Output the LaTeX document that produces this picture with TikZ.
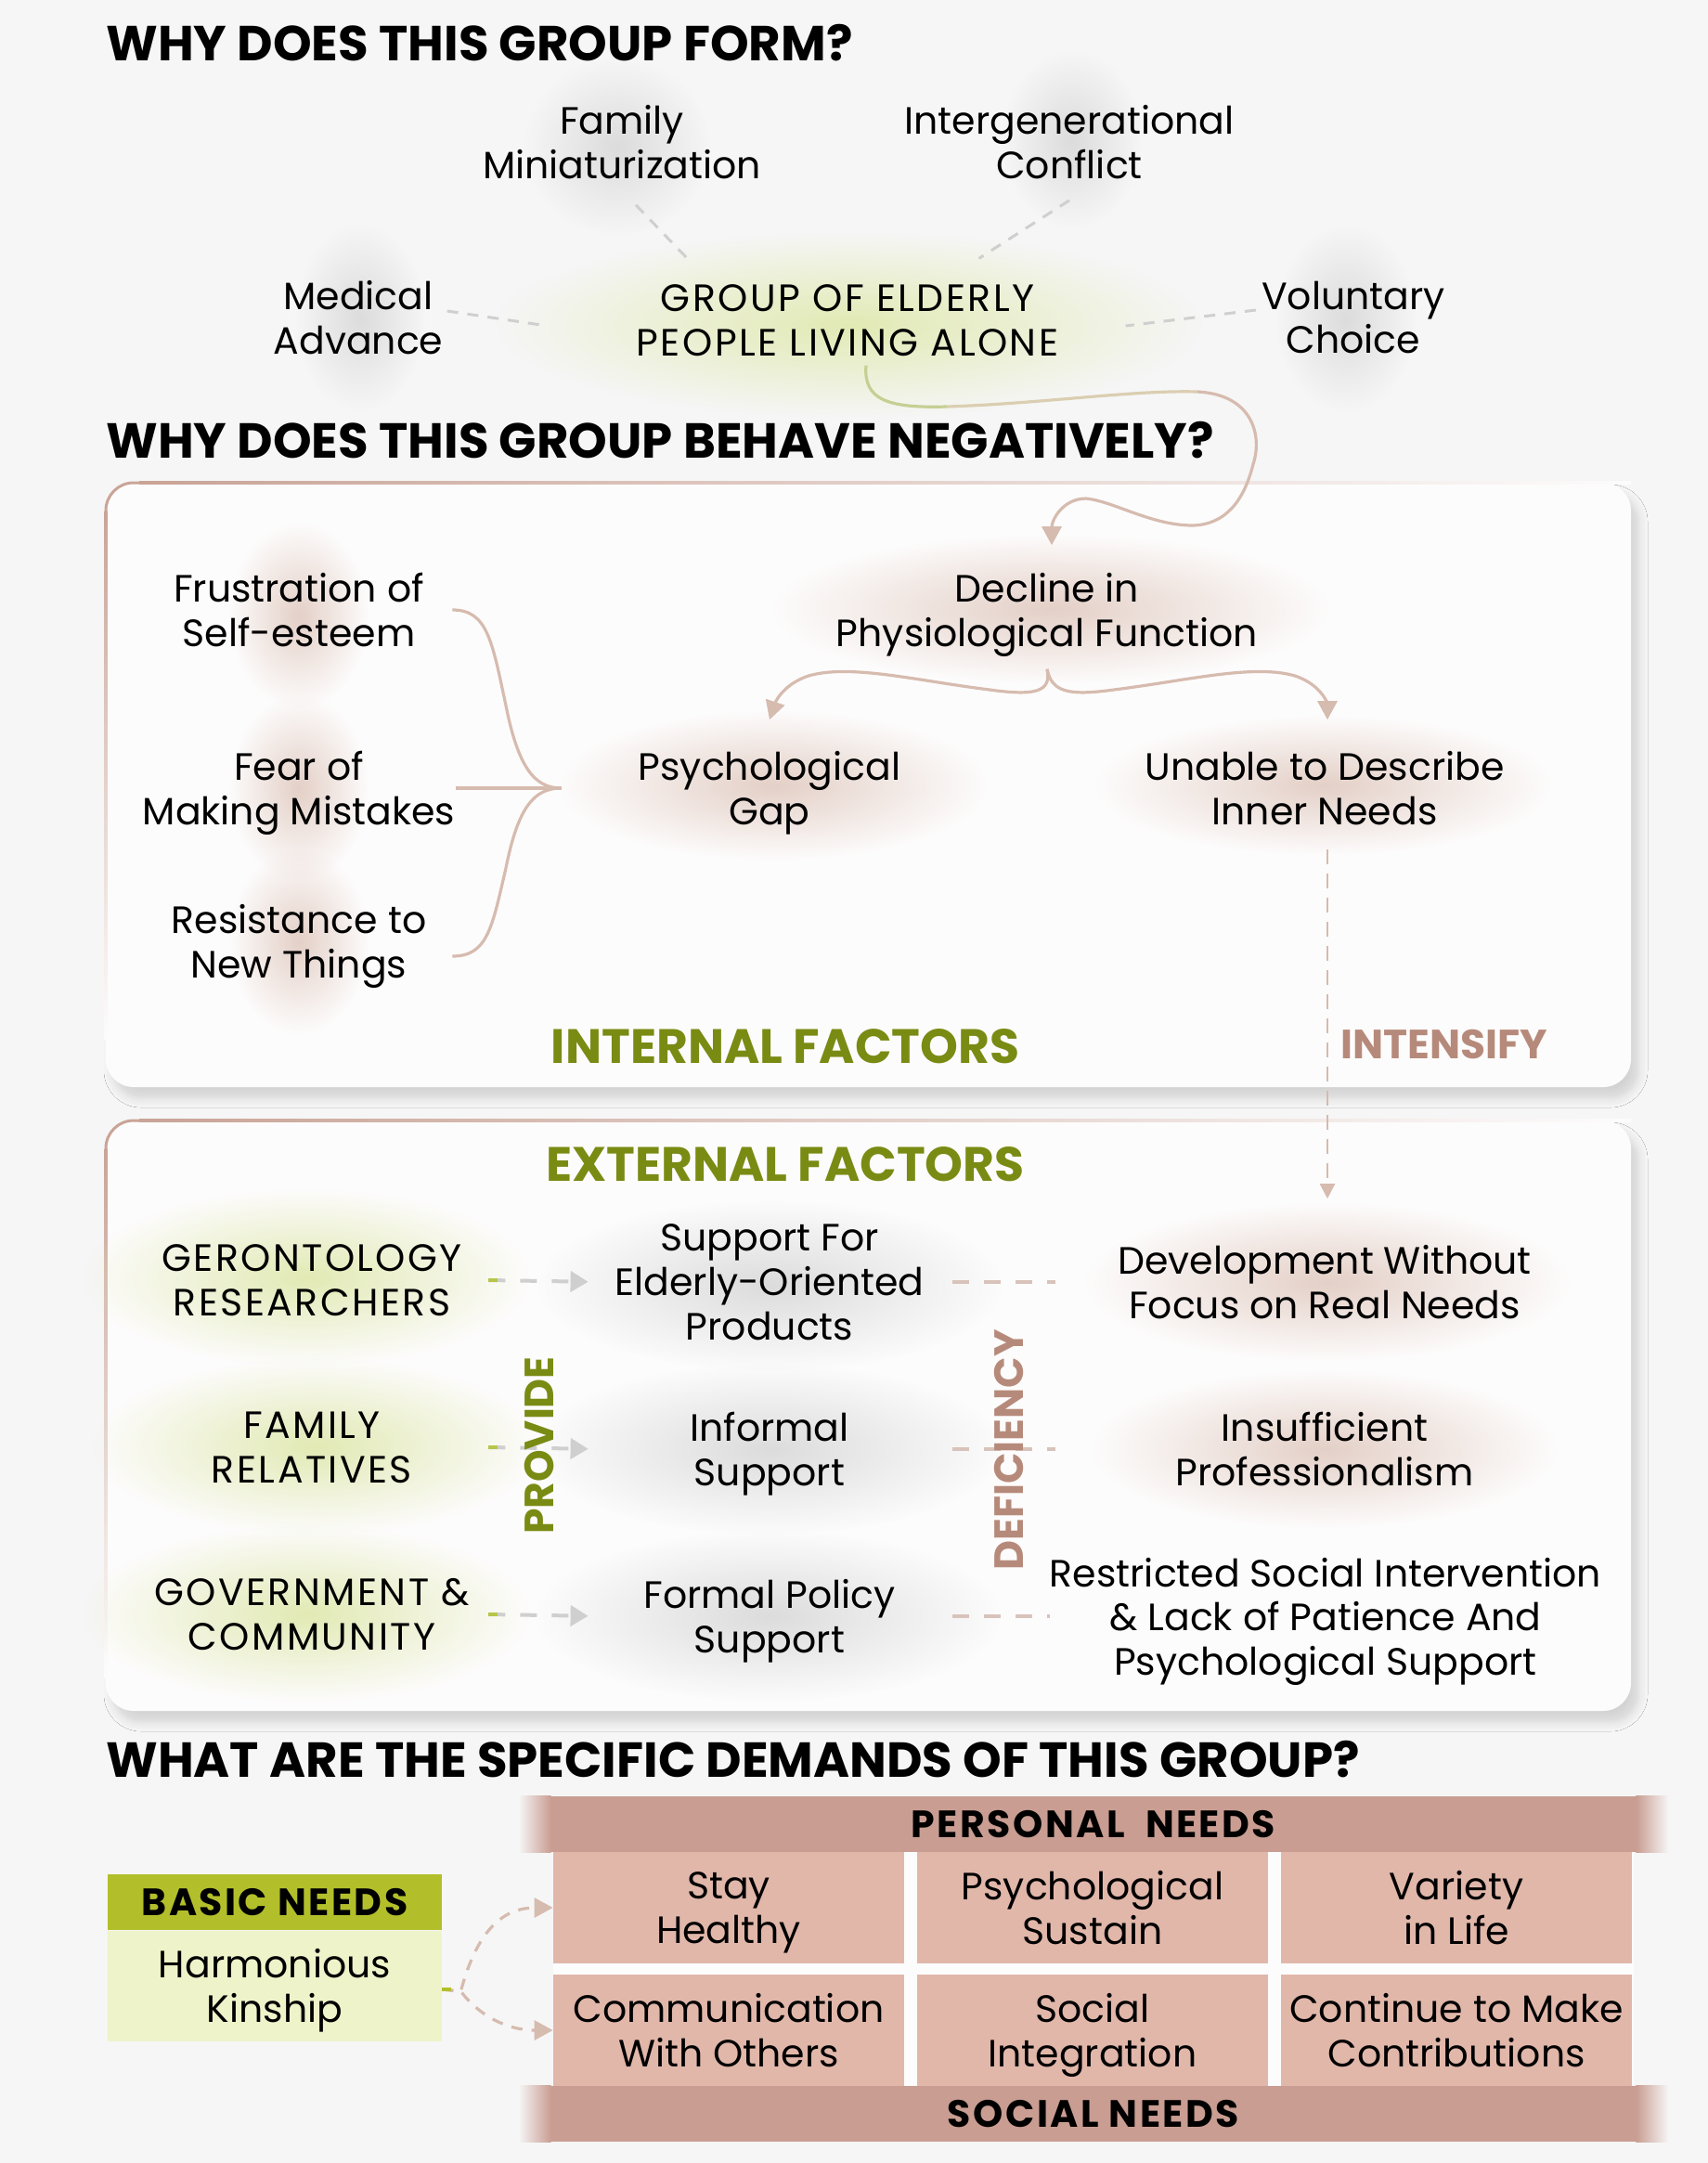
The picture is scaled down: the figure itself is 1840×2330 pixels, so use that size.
\documentclass[tikz,border=0pt]{standalone}
\usepackage{fontspec}
\setmainfont{Poppins}
\usetikzlibrary{arrows.meta,fadings,shadows.blur}

\definecolor{bgc}{HTML}{F6F6F6}
\definecolor{panelc}{HTML}{FDFCFC}
\definecolor{edgec}{HTML}{C9A497}
\definecolor{linkc}{HTML}{D6BBAF}
\definecolor{graydash}{HTML}{CFCFCF}
\definecolor{olivec}{HTML}{7A8B14}
\definecolor{brownt}{HTML}{B68A7B}
\definecolor{barc}{HTML}{C99D92}
\definecolor{cellc}{HTML}{E1B7AA}
\definecolor{basich}{HTML}{B2BF2A}
\definecolor{basicb}{HTML}{EEF3CA}
\definecolor{glowgray}{HTML}{DCDCDC}
\definecolor{glowpink}{HTML}{E4D0C7}
\definecolor{glowgreen}{HTML}{E2EAB4}
\definecolor{greendash}{HTML}{B7C54A}
\definecolor{defdash}{HTML}{D8C3BB}

\tikzfading[name=glowfade, inner color=transparent!0, outer color=transparent!100]

\tikzset{
  txt/.style={align=center, inner sep=0pt, text depth=0pt, font=\fontsize{20.5}{23.8}\selectfont},
  captxt/.style={txt, font=\fontsize{20.5}{23.8}\selectfont\addfontfeatures{LetterSpace=6}},
  head/.style={anchor=west, inner sep=0pt, font=\fontsize{26.5}{30}\selectfont\bfseries},
  factor/.style={inner sep=0pt, text=olivec, font=\fontsize{26}{30}\selectfont\bfseries},
  verb/.style={inner sep=0pt, rotate=90, font=\fontsize{22}{24}\selectfont\bfseries},
  panel/.style={fill=panelc, rounded corners=15pt,
    blur shadow={shadow xshift=4pt, shadow yshift=-6pt, shadow blur radius=5pt, shadow opacity=14}},
  formline/.style={draw=graydash, line width=1.5pt, dash pattern=on 6pt off 5pt},
  link/.style={draw=linkc, line width=1.6pt},
  tip/.style={-{Triangle[length=10pt,width=10.5pt]}},
  provline/.style={draw=graydash, line width=2pt, dash pattern=on 9pt off 8pt},
  defline/.style={draw=defdash, line width=2pt, dash pattern=on 9pt off 8pt},
  needline/.style={draw=linkc, line width=1.6pt, dash pattern=on 6pt off 5pt},
  bar/.style={fill=barc, minimum width=584pt, minimum height=30pt, inner sep=0pt,
    font=\fontsize{20.5}{23.8}\selectfont\bfseries\addfontfeatures{LetterSpace=6}},
  cell/.style={fill=cellc, minimum width=189pt, minimum height=60pt, inner sep=0pt,
    text depth=0pt, align=center, font=\fontsize{20.5}{23.8}\selectfont},
}

\begin{document}
\begin{tikzpicture}[x=0.5pt, y=-0.5pt]
\fill[bgc] (0,0) rectangle (1840,2330);
\useasboundingbox (0,0) rectangle (1840,2330);

% panels
\fill[panel] (114,520) rectangle (1757,1171);
\fill[panel] (114,1207) rectangle (1757,1843);
\foreach \ty in {520,1207} {
  \shade[left color=edgec, right color=panelc] (150,\ty-1.5) rectangle (1757,\ty+1.5);
  \shade[top color=edgec, bottom color=panelc] (112.5,\ty+30) rectangle (115.5,\ty+600);
  \draw[edgec, line width=1.5pt, rounded corners=15pt] (114,\ty+40) -- (114,\ty) -- (154,\ty);
}

% glows
\foreach \gx/\gy/\ga/\gb in {665/158/100/95, 1155/150/75/95, 388/342/70/100, 1450/343/75/100,
    830/1385/250/92, 828/1561/250/92, 828/1741/250/92}
  \fill[glowgray, path fading=glowfade] (\gx,\gy) ellipse ({\ga} and {\gb});
\foreach \gx/\gy/\ga/\gb in {915/350/380/100, 330/1376/240/95, 340/1558/240/95, 330/1738/240/95}
  \fill[glowgreen, path fading=glowfade] (\gx,\gy) ellipse ({\ga} and {\gb});
\foreach \gx/\gy/\ga/\gb in {322/663/75/100, 322/849/75/100, 322/1014/75/100, 1132/656/300/80,
    833/846/230/80, 1426/846/245/75, 1430/1381/260/85, 1427/1561/250/85}
  \fill[glowpink, path fading=glowfade] (\gx,\gy) ellipse ({\ga} and {\gb});

% headings
\node[head] (q1) at (114,46) {WHY DOES THIS GROUP FORM?};
\node[head] (q2) at (114,474) {WHY DOES THIS GROUP BEHAVE NEGATIVELY?};
\node[head] (q3) at (114,1895) {WHAT ARE THE SPECIFIC DEMANDS OF THIS GROUP?};

% why it forms
\node[txt] (family) at (670,153) {Family\\Miniaturization};
\node[txt] (inter) at (1152,153) {Intergenerational\\Conflict};
\node[txt] (medical) at (386,342) {Medical\\Advance};
\node[captxt] (group) at (913,345) {GROUP OF ELDERLY\\PEOPLE LIVING ALONE};
\node[txt] (volunt) at (1458,342) {Voluntary\\Choice};

\draw[formline] ([xshift=7.5pt,yshift=-14pt]family.south) -- ([xshift=27.5pt,yshift=14pt]group.north west);
\draw[formline] ([xshift=0pt,yshift=-11.5pt]inter.south) -- ([xshift=-43pt,yshift=14pt]group.north east);
\draw[formline] ([xshift=2pt,yshift=3.5pt]medical.east) -- ([xshift=-48pt,yshift=-3pt]group.west);
\draw[formline] ([xshift=-3pt,yshift=4pt]volunt.west) -- ([xshift=36pt,yshift=-3pt]group.east);

% internal factors
\node[txt, minimum width=165pt] (frust) at (322,657) {Frustration of\\Self-esteem};
\node[txt, minimum width=165pt] (fear) at (322,849) {Fear of\\Making Mistakes};
\node[txt, minimum width=165pt] (resist) at (322,1014) {Resistance to\\New Things};
\node[txt] (decline) at (1128,657) {Decline in\\Physiological Function};
\node[txt, minimum width=224pt] (gap) at (829,849) {Psychological\\Gap};
\node[txt] (unable) at (1427,849) {Unable to Describe\\Inner Needs};
\node[factor] (internal) at (846,1127) {INTERNAL FACTORS};
\node[verb, rotate=-90, text=brownt] (intens) at (1556,1125) {INTENSIFY};

\draw[link, draw=glowgreen!50!olivec!70] ([xshift=10pt,yshift=-5pt]group.south)
  .. controls (930,430) and (955,440) .. (1020,438);
\draw[link, draw=linkc!60!glowgreen] (1020,438) .. controls (1120,435) and (1220,420) .. (1290,422);
\draw[link, tip] (1290,422) .. controls (1350,425) and (1360,470) .. (1350,500)
  .. controls (1340,540) and (1320,565) .. (1285,566)
  .. controls (1240,566) and (1200,540) .. (1170,537)
  .. controls (1145,537) and (1133,560) .. ([xshift=2.5pt,yshift=15pt]decline.north);

\draw[link, tip] ([yshift=-12pt]decline.south) .. controls (1133,745) and (1116,750) .. (1066,743)
  .. controls (986,733) and (916,715) .. (871,728)
  .. controls (841,738) and (834,760) .. ([yshift=17pt]gap.north);
\draw[link, tip] ([yshift=-12pt]decline.south) .. controls (1133,745) and (1150,750) .. (1200,743)
  .. controls (1280,733) and (1350,715) .. (1395,728)
  .. controls (1425,738) and (1430,760) .. ([xshift=1.5pt,yshift=17pt]unable.north);

\draw[link] (frust.east) .. controls (525,657) and (530,690) .. (545,760)
  .. controls (558,825) and (575,849) .. (gap.west);
\draw[link] (fear.east) -- (gap.west);
\draw[link] ([yshift=-8pt]resist.east) .. controls (525,1030) and (530,1000) .. (545,935)
  .. controls (558,870) and (575,849) .. (gap.west);

% external factors
\node[factor] (external) at (846,1254) {EXTERNAL FACTORS};
\node[captxt, minimum width=190pt] (ger) at (336,1379) {GERONTOLOGY\\RESEARCHERS};
\node[captxt, minimum width=190pt] (fam) at (336,1559) {FAMILY\\RELATIVES};
\node[captxt, minimum width=190pt] (gov) at (336,1739) {GOVERNMENT \&\\COMMUNITY};
\node[txt, minimum width=180pt] (supp) at (829,1381) {Support For\\Elderly-Oriented\\Products};
\node[txt, minimum width=180pt] (informal) at (829,1561) {Informal\\Support};
\node[txt, minimum width=180pt] (formal) at (829,1741) {Formal Policy\\Support};
\node[txt, minimum width=290pt] (dev) at (1427,1381) {Development Without\\Focus on Real Needs};
\node[txt, minimum width=290pt] (insuff) at (1427,1561) {Insufficient\\Professionalism};
\node[txt, minimum width=290pt] (restr) at (1428,1741) {Restricted Social Intervention\\\& Lack of Patience And\\Psychological Support};

\draw[draw=linkc, line width=1.2pt, dash pattern=on 8pt off 5pt, -{Triangle[length=8pt,width=8pt]}]
  ([xshift=1.5pt,yshift=-13pt]unable.south) -- ([xshift=1.5pt,yshift=25pt]dev.north);

\foreach \src/\dst/\nxt in {ger/supp/dev, fam/informal/insuff, gov/formal/restr} {
  \draw[provline, -{Triangle[length=9.5pt,width=11pt]}, shorten >=7.5pt] (\src.east) -- (\dst.west);
  \draw[draw=greendash, line width=2pt] (\src.east) -- ++(10,0);
  \draw[defline] ([xshift=8.5pt]\dst.east) -- (\nxt.west);
}
\node[verb, text=olivec] (provide) at (581,1557) {PROVIDE};
\node[verb, text=brownt] (defic) at (1087,1562) {DEFICIENCY};

% demands
\node[bar] (personal) at (1178,1965) {PERSONAL\ \ NEEDS};
\node[bar] (social) at (1178,2277) {SOCIAL NEEDS};
\foreach \b in {personal, social} {
  \shade[left color=bgc, right color=barc] ([xshift=-17.5pt]\b.south west) rectangle (\b.north west);
  \shade[left color=barc, right color=bgc] (\b.south east) rectangle ([xshift=17.5pt]\b.north east);
}
\fill[panelc] (596,1995) rectangle (1760,2247);
\node[cell] (c11) at (785,2055) {Stay\\Healthy};
\node[cell] (c12) at (1177,2055) {Psychological\\Sustain};
\node[cell] (c13) at (1569,2055) {Variety\\in Life};
\node[cell] (c21) at (785,2187) {Communication\\With Others};
\node[cell] (c22) at (1177,2187) {Social\\Integration};
\node[cell] (c23) at (1569,2187) {Continue to Make\\Contributions};

\node[fill=basich, minimum width=180pt, minimum height=30pt, inner sep=0pt,
  font=\fontsize{20.5}{23.8}\selectfont\bfseries\addfontfeatures{LetterSpace=6}] (basic) at (296,2049) {BASIC NEEDS};
\node[fill=basicb, minimum width=180pt, minimum height=59.5pt, inner sep=0pt, align=center,
  text depth=0pt, font=\fontsize{20.5}{23.8}\selectfont] (kin) at (296,2139) {Harmonious\\Kinship};

\draw[needline, tip] ([yshift=-2pt]kin.east) -- ++(20,2) .. controls (515,2075) and (545,2055) .. (c11.west);
\draw[needline, tip] ([yshift=-2pt]kin.east) -- ++(20,2) .. controls (515,2170) and (545,2187) .. (c21.west);
\draw[draw=basich, line width=2pt] ([yshift=-2pt]kin.east) -- ++(10,0);
\end{tikzpicture}
\end{document}
